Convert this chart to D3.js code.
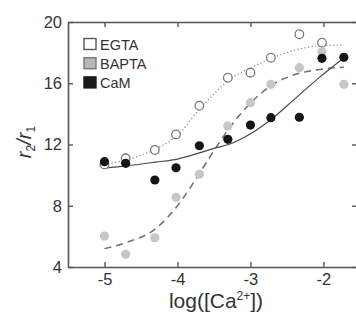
<!DOCTYPE html>
<html>
<head>
<meta charset="utf-8">
<script src="https://cdn.jsdelivr.net/npm/d3@7"></script>
<style>
  html, body { margin: 0; padding: 0; background: #fff; }
  svg { display: block; font-family: "Liberation Sans", Arial, Helvetica, sans-serif; }
</style>
</head>
<body>
<svg id="chart"></svg>
<script>
// ─── Data ─────────────────────────────────────────────────────────────────
const logCa   = [-5, -4.71, -4.31, -4.02, -3.70, -3.31, -3.0, -2.72, -2.33, -2.02, -1.72];
const egta    = [10.7, 11.1, 11.64, 12.66, 14.53, 16.36, 16.69, 17.67, 19.2, 18.65, null];
const bapta   = [6.02, 4.83, 5.91, 8.55, 10.05, 13.21, 14.73, 15.93, 17.02, 18.06, 15.93];
const cam     = [10.88, 10.77, 9.68, 10.48, 11.92, 12.34, 13.27, 13.75, 13.78, 17.63, 17.69];

// fitted curves
const fitX     = [-5, -4.7, -4.3, -4.0, -3.7, -3.5, -3.3, -3.0, -2.7, -2.4, -2.05, -1.72];
const egtaFit  = [10.7, 11.0, 11.7, 12.6, 14.3, 15.3, 16.2, 17.0, 17.65, 18.15, 18.45, 18.5];
const baptaFit = [5.2, 5.6, 6.5, 8.0, 10.1, 11.6, 13.0, 14.7, 15.9, 16.55, 16.9, 17.05];
const camFit   = [10.45, 10.6, 10.85, 11.05, 11.45, 11.75, 12.0, 12.7, 13.7, 14.95, 16.4, 17.65];

const xTicks = [-5, -4, -3, -2];
const yTicks = [4, 8, 12, 16, 20];
const legendItems = ["EGTA", "BAPTA", "CaM"];

// ─── Layout ───────────────────────────────────────────────────────────────
const W = 356, H = 324;
const PLOT = { left: 68, right: 357, top: 22, bottom: 267 };

const x = d3.scaleLinear().domain([-5.5, -1.54]).range([PLOT.left, PLOT.right]);
const y = d3.scaleLinear().domain([4, 20]).range([PLOT.bottom, PLOT.top]);

const AXIS = "#555";
const TXT = "#333";

const svg = d3.select("#chart").attr("width", W).attr("height", H);

// ─── Axes (ticks point inward on all four sides) ──────────────────────────
function styleAxis(g) {
  g.select(".domain").attr("stroke", AXIS).attr("stroke-width", 1.6);
  g.selectAll(".tick line").attr("stroke", AXIS).attr("stroke-width", 1.4);
  g.selectAll(".tick text").attr("fill", TXT).attr("font-size", "16.5px");
}

svg.append("g")
  .attr("transform", `translate(0,${PLOT.bottom})`)
  .call(d3.axisBottom(x).tickValues(xTicks).tickSize(-5).tickPadding(6).tickSizeOuter(0)
    .tickFormat(d => String(d)))
  .call(styleAxis);

svg.append("g")
  .attr("transform", `translate(0,${PLOT.top})`)
  .call(d3.axisTop(x).tickValues(xTicks).tickSize(-5).tickSizeOuter(0).tickFormat(""))
  .call(styleAxis);

svg.append("g")
  .attr("transform", `translate(${PLOT.left},0)`)
  .call(d3.axisLeft(y).tickValues(yTicks).tickSize(-5).tickPadding(6).tickSizeOuter(0))
  .call(styleAxis);

svg.append("g")
  .attr("transform", `translate(${PLOT.right},0)`)
  .call(d3.axisRight(y).tickValues(yTicks).tickSize(-5).tickSizeOuter(0).tickFormat(""))
  .call(styleAxis);

// ─── Fit curves ───────────────────────────────────────────────────────────
const line = d3.line().x(d => x(d[0])).y(d => y(d[1])).curve(d3.curveMonotoneX);

const curves = [
  { vals: egtaFit,  stroke: "#8a8a8a", width: 1.3, dash: "1.2,2.4" },
  { vals: baptaFit, stroke: "#6e6e6e", width: 1.5, dash: "7,5" },
  { vals: camFit,   stroke: "#4a4a4a", width: 1.2, dash: null },
];
svg.append("g").selectAll("path")
  .data(curves).join("path")
  .attr("d", c => line(fitX.map((v, i) => [v, c.vals[i]])))
  .attr("fill", "none")
  .attr("stroke", c => c.stroke)
  .attr("stroke-width", c => c.width)
  .attr("stroke-dasharray", c => c.dash);

// ─── Points ───────────────────────────────────────────────────────────────
function pts(vals) {
  return logCa.map((v, i) => [v, vals[i]]).filter(d => d[1] != null);
}

svg.append("g").selectAll("circle")
  .data(pts(egta)).join("circle")
  .attr("cx", d => x(d[0])).attr("cy", d => y(d[1])).attr("r", 4.3)
  .attr("fill", "#fff").attr("stroke", "#7a7a7a").attr("stroke-width", 1.3);

svg.append("g").selectAll("circle")
  .data(pts(bapta)).join("circle")
  .attr("cx", d => x(d[0])).attr("cy", d => y(d[1])).attr("r", 4.6)
  .attr("fill", "#c6c6c6");

svg.append("g").selectAll("circle")
  .data(pts(cam)).join("circle")
  .attr("cx", d => x(d[0])).attr("cy", d => y(d[1])).attr("r", 4.6)
  .attr("fill", "#151515");

// ─── Legend ───────────────────────────────────────────────────────────────
const legendStyle = {
  EGTA:  { fill: "#fff",    stroke: "#555" },
  BAPTA: { fill: "#b8b8b8", stroke: "#777" },
  CaM:   { fill: "#1a1a1a", stroke: "#1a1a1a" },
};
const lg = svg.append("g").attr("transform", "translate(84,38)");
const rows = lg.selectAll("g").data(legendItems).join("g")
  .attr("transform", (d, i) => `translate(0,${i * 19.2})`);
rows.append("rect")
  .attr("x", 0).attr("y", 0.5).attr("width", 12).attr("height", 11)
  .attr("fill", d => legendStyle[d].fill)
  .attr("stroke", d => legendStyle[d].stroke).attr("stroke-width", 1.4);
rows.append("text")
  .attr("x", 16).attr("y", 11.5)
  .attr("font-size", "14.5px").attr("fill", TXT)
  .text(d => d);

// ─── Axis titles ──────────────────────────────────────────────────────────
const xt = svg.append("text")
  .attr("x", 216).attr("y", 308)
  .attr("text-anchor", "middle").attr("font-size", "21px").attr("fill", TXT);
xt.append("tspan").text("log([Ca");
xt.append("tspan").attr("font-size", "12px").attr("dy", -8).text("2+");
xt.append("tspan").attr("dy", 8).text("])");

const yt = svg.append("text")
  .attr("transform", "translate(31,142) rotate(-90)")
  .attr("text-anchor", "middle").attr("font-size", "20px")
  .attr("font-style", "italic").attr("fill", TXT);
yt.append("tspan").text("r");
yt.append("tspan").attr("font-size", "12px").attr("font-style", "normal").attr("dy", 4).text("2");
yt.append("tspan").attr("dy", -4).text("/r");
yt.append("tspan").attr("font-size", "12px").attr("font-style", "normal").attr("dy", 4).text("1");
</script>
</body>
</html>
